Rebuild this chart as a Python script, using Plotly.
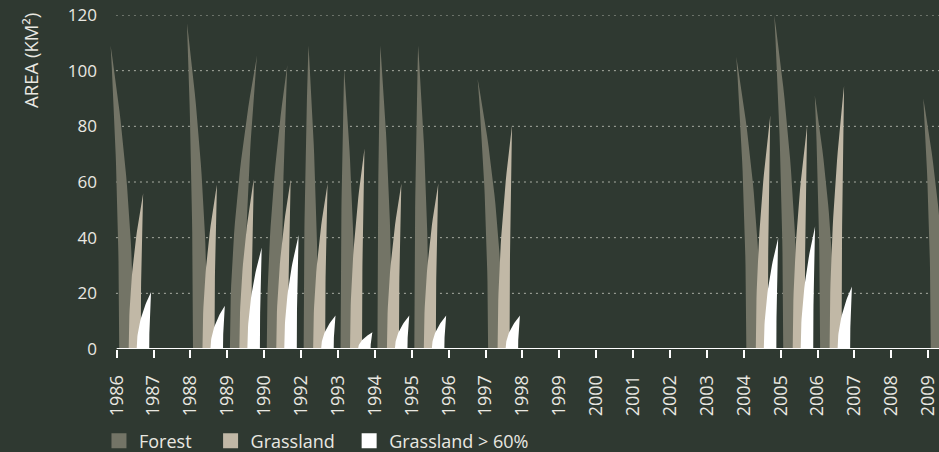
import plotly.graph_objects as go

# ---------------- data ----------------
years = ["1986", "1987", "1988", "1989", "1990", "1992", "1993", "1994", "1995",
         "1996", "1997", "1998", "1999", "2000", "2001", "2002", "2003", "2004",
         "2005", "2006", "2007", "2008", "2009"]
forest = [109, 0, 117, 105.5, 102, 109, 100.5, 109, 109, 0, 97,
          0, 0, 0, 0, 0, 0, 105, 120, 91, 0, 0, 90]
grassland = [56, 0, 59, 61, 61, 59.5, 72, 59.5, 59.5, 0, 80.5,
             0, 0, 0, 0, 0, 0, 84, 80.5, 94.5, 0, 0, None]
grassland60 = [20.5, 0, 15.5, 36.5, 41, 12, 6, 12, 12, 0, 12,
               0, 0, 0, 0, 0, 0, 40, 44, 22.5, 0, 0, None]
yticks = [0, 20, 40, 60, 80, 100, 120]

# ---------------- style ----------------
BG = "#2f3931"
C_FOREST = "#737466"
C_GRASS = "#c1b8a6"
C_G60 = "#ffffff"
TXT = "#e9e8e1"
GRID = "#a9ada3"
FONT = "Open Sans"
NB = "\u00a0"

# tip lean of each forest blade (category units, relative to base centre)
forest_lean = [-0.43, 0, -0.36, 0.54, 0.36, -0.066, -0.10, -0.12, -0.094, 0, -0.48,
               0, 0, 0, 0, 0, 0, -0.47, -0.44, -0.34, 0, 0, -0.40]


def tusks(values, off, w, lean, c=0.5, n=28):
    xs, ys = [], []
    for i, v in enumerate(values):
        if not v:
            continue
        ln = lean[i] if isinstance(lean, list) else lean
        x0 = i + off
        x1 = x0 + w
        xt = x0 + w / 2 + ln
        for k in range(n + 1):
            t = k / n
            xs.append((1 - t) ** 2 * x0 + 2 * (1 - t) * t * x0 + t * t * xt)
            ys.append(2 * (1 - t) * t * c * v + t * t * v)
        for k in range(n, -1, -1):
            t = k / n
            xs.append((1 - t) ** 2 * x1 + 2 * (1 - t) * t * x1 + t * t * xt)
            ys.append(2 * (1 - t) * t * c * v + t * t * v)
        xs.append(x0)
        ys.append(0)
        xs.append(None)
        ys.append(None)
    return xs, ys


fig = go.Figure()
series = [
    ("Forest", forest, C_FOREST, 0.068, 0.393, forest_lean, 3),
    ("Grassland", grassland, C_GRASS, 0.325, 0.325, 0.23, 2),
    ("Grassland > 60%", grassland60, C_G60, 0.542, 0.34, 0.22, 0),
]
for name, vals, col, off, w, lean, pad in series:
    xs, ys = tusks(vals, off, w, lean)
    fig.add_trace(go.Scatter(x=xs, y=ys, mode="lines", fill="toself",
                             fillcolor=col, line=dict(width=0, color=col),
                             hoverinfo="skip", showlegend=False, legendgroup=name))
for name, vals, col, off, w, lean, pad in series:
    fig.add_trace(go.Scatter(x=[None], y=[None], mode="markers", name=name + NB * pad,
                             marker=dict(symbol="square", size=15, color=col),
                             legendgroup=name))

XMIN, XMAX = -0.2358, 22.291
shapes = []
for yv in yticks[1:]:
    shapes.append(dict(type="line", xref="x", yref="y", x0=-0.02, x1=XMAX, y0=yv, y1=yv,
                       line=dict(color=GRID, width=1, dash="2px,4px"), layer="below"))
shapes.append(dict(type="line", xref="x", yref="y", x0=0, x1=XMAX, y0=0, y1=0,
                   line=dict(color="#ffffff", width=2), layer="above"))

fig.update_layout(
    width=939, height=452,
    paper_bgcolor=BG, plot_bgcolor=BG,
    margin=dict(l=108, r=0, t=15, b=103),
    font=dict(family=FONT, color=TXT, size=17),
    shapes=shapes,
    xaxis=dict(range=[XMIN, XMAX], tickmode="array", tickvals=list(range(len(years))),
               ticktext=years, tickangle=-90, ticks="outside", ticklen=8,
               tickcolor="#ffffff", tickwidth=1.5, showgrid=False, zeroline=False,
               showline=False, tickfont=dict(size=18, color=TXT, family=FONT),
               ticklabelstandoff=10, ticklabeloverflow="allow", fixedrange=True),
    yaxis=dict(range=[0, 120], tickmode="array", tickvals=yticks, showgrid=False,
               zeroline=False, showline=False, ticks="", ticklabelstandoff=10,
               tickfont=dict(size=17, color=TXT, family=FONT), fixedrange=True),
    legend=dict(orientation="h", xref="container", yref="container",
                x=0.1054, y=0.0245, xanchor="left", yanchor="middle",
                font=dict(size=18, color=TXT, family=FONT), bgcolor="rgba(0,0,0,0)"),
    annotations=[dict(text="AREA (KM²)", textangle=-90, xref="paper", yref="paper",
                      x=-0.094, y=0.865, xanchor="center", yanchor="middle",
                      showarrow=False, font=dict(size=18.5, color=TXT, family=FONT))],
)

fig.write_html("out.html", config={"displayModeBar": False},
               post_script="document.body.style.margin='0';document.body.style.overflow='hidden';")
